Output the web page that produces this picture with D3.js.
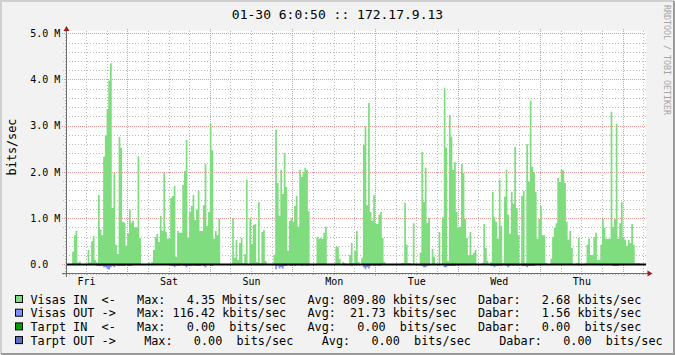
<!DOCTYPE html>
<html>
<head>
<meta charset="utf-8">
<script src="https://cdn.jsdelivr.net/npm/d3@7"></script>
<style>
  body { margin: 0; background: #f2f2f2; }
  svg text { font-family: "DejaVu Sans Mono", monospace; fill: #000; white-space: pre; }
</style>
</head>
<body>
<div id="chart"></div>
<script>
// half-hour averages, Fri 06:00 -> next Fri 06:00, in Mbits/sec
const visasIn = [
  0,0,0,0,0.27,0.63,0.72,0.04,0.06,0,0,0,
  0,0.31,0.04,0.5,0.61,0.09,0.04,1.5,0.76,0.63,2.33,2.79,
  3.36,3.98,4.35,1.22,1.98,0.42,0.22,2.76,2.52,0.92,0.9,0.4,
  0.67,1.18,0.9,0.94,0.8,0.8,2.34,0.57,0,0,0,0,
  0.05,0,0.05,0.31,0.59,0.66,0.48,1.05,0.72,1.98,0.7,0.55,
  0.55,1.44,1.48,1.7,0.16,0.72,0.68,0.68,1.72,2.02,2.69,0.58,
  1.13,1.26,1.5,0.96,1.18,1.59,0.72,0.72,1.28,2.17,0.83,1.13,
  3.04,2.47,0.55,0.72,0.63,0.98,0,0,0,0,0,0,
  0,1.0,0.14,0.53,0.09,0.46,0.57,0.03,0.22,1.83,0,1.0,
  0.44,0.85,0.87,0.05,1.35,0.03,0.7,0.74,0.07,0,0,0,
  0,0.2,2.91,1.76,1.05,2.04,1.52,2.41,1.67,0.29,0.94,1.0,
  0.92,1.26,1.48,0.81,2.04,1.89,2.0,2.09,2.04,1.15,0,0,
  0,0,0.59,0.55,0.57,0.55,0.68,0.81,0,0,0,0,
  0,0.38,0.38,0.12,0,0.05,0.03,0,0,0.2,0.46,0.03,
  0.29,0.72,0.05,0,0.14,2.58,2.99,1.28,3.49,1.13,0.94,1.5,
  0.87,0.87,1.07,1.13,0.57,0.05,0,0,0,0,0,0,
  0,0,0,0.03,0.03,1.33,0.42,0.03,0.03,0,0.89,0,
  0,0,0.25,2.43,1.35,2.09,0.89,1.0,0,0.33,0.16,0,
  0,0.7,0,1.02,3.82,2.52,0.07,3.23,2.76,2.04,2.21,1.13,
  0.79,0.81,2.17,1.98,0.98,0.57,0.2,0.7,0.2,0.25,0.31,0,
  0,0,0.03,0.87,0.35,0.07,0,0.05,1.57,1.02,0.92,0.55,
  1.83,0.83,0.03,1.46,2.04,1.07,0.66,1.57,1.31,2.54,1.22,0.63,
  0,1.48,1.59,0.03,2.6,1.78,3.54,2.11,2.0,1.57,0.55,0.98,
  1.26,0.63,0.63,0.03,0,0,0.12,0.59,0.79,0.89,1.87,1.78,
  2.04,2.03,1.76,0.92,0.53,0.72,0.35,0,0,0.03,0.57,0,
  0,0,0.03,0.42,0.56,0.2,0.2,0.59,0.68,0.1,0.1,0.42,
  0.98,0.79,0.55,0.55,0.55,3.3,0.81,0.98,3.04,0.55,0.89,1.35,
  0.59,0.53,0.4,0.53,0.46,0.87,0.42,0.03,0.03,0.03,0,0
];

// outgoing traffic, drawn below the zero line
const visasOut = [
  0,0,0,0,0,0,0.02,0,0,0,0,0,
  0,0,0,0,0,0,0.04,0.04,0.04,0.04,0.065,0.065,
  0.1,0.116,0.065,0.04,0.065,0.02,0.04,0.04,0.04,0.04,0.04,0,
  0.04,0.04,0.04,0,0,0,0.02,0,0,0,0,0,
  0,0,0,0,0,0,0,0,0,0,0,0,
  0,0.04,0.04,0.065,0.04,0.04,0.04,0,0.04,0.04,0.065,0.04,
  0.04,0.04,0.02,0.04,0.04,0.04,0.04,0,0.04,0.065,0,0,
  0.04,0.04,0,0,0,0,0,0,0,0,0,0,
  0,0.02,0,0,0,0,0,0,0,0.02,0,0,
  0,0.02,0,0,0.02,0,0.02,0,0,0,0,0,
  0,0,0.11,0.04,0.09,0.065,0.09,0.04,0.04,0,0.02,0.04,
  0.02,0.04,0.02,0.02,0.02,0.04,0.02,0.02,0.04,0.02,0,0,
  0,0,0,0,0,0,0,0,0,0,0,0,
  0,0,0,0,0,0,0,0,0,0,0.04,0,
  0,0.02,0,0,0,0.065,0.11,0.065,0.09,0.04,0.02,0.04,
  0.02,0.02,0.04,0.02,0,0,0,0,0,0,0,0,
  0,0,0,0,0,0.02,0,0,0,0,0,0,
  0,0,0.02,0.04,0.065,0.065,0.04,0.02,0,0,0,0,
  0,0.02,0,0,0.065,0.065,0.04,0.04,0.04,0.04,0.04,0.02,
  0.02,0.02,0.02,0.02,0.02,0.02,0,0,0,0,0,0,
  0,0,0,0,0,0,0,0.04,0.04,0.065,0.04,0.04,
  0.04,0.04,0,0.02,0.04,0.065,0.04,0.02,0.04,0.02,0.04,0.02,
  0,0.04,0.04,0.04,0.065,0.04,0.04,0.04,0.04,0,0,0.02,
  0.02,0.02,0,0,0,0,0,0,0,0,0,0,
  0,0,0,0,0,0,0,0,0,0,0.02,0,
  0,0,0,0,0,0,0,0,0,0,0,0.02,
  0,0,0,0,0,0,0.04,0.04,0.04,0.04,0,0.02,
  0,0,0,0,0,0,0,0,0,0,0,0
];

const dayLabels = ["Fri", "Sat", "Sun", "Mon", "Tue", "Wed", "Thu"];
const dayNoons = [6, 30, 54, 78, 102, 126, 150];   // hours from start
const yTicks = [0, 1, 2, 3, 4, 5];
const yTickLabels = ["0.0", "1.0 M", "2.0 M", "3.0 M", "4.0 M", "5.0 M"];

const legendNames = ["Visas IN  <-", "Visas OUT ->", "Tarpt IN  <-", "Tarpt OUT ->"];
const legendColors = ["#7fdc7f", "#7f8fff", "#00a000", "#5872c8"];
const legendMax = [["4.35", "M"], ["116.42", "k"], ["0.00", " "], ["0.00", " "]];
const legendAvg = [["809.80", "k"], ["21.73", "k"], ["0.00", " "], ["0.00", " "]];
const legendLast = [["2.68", "k"], ["1.56", "k"], ["0.00", " "], ["0.00", " "]];

const title = "01-30 6:0:50 :: 172.17.9.13";
const watermark = "RRDTOOL / TOBI OETIKER";

// Setting the dimensions of the graph
const width = 675, height = 355;
const plot = {left: 65.3, right: 643.3, top: 33.3, bottom: 273.5};

const svg = d3.select("#chart")
    .append("svg")
    .attr("width", width)
    .attr("height", height);

// background and 3d frame
svg.append("rect").attr("width", width).attr("height", height).attr("fill", "#f2f2f2");
svg.append("path").attr("d", "M1,354 V1 H674").attr("fill", "none")
    .attr("stroke", "#cfcfcf").attr("stroke-width", 2);
svg.append("path").attr("d", "M1,354 H674 V1").attr("fill", "none")
    .attr("stroke", "#9b9b9b").attr("stroke-width", 2);

// white canvas
svg.append("rect").attr("x", 66).attr("y", 31).attr("width", 580).attr("height", 243.5)
    .attr("fill", "#fff");

// Scales
const x = d3.scaleLinear().domain([0, 168]).range([plot.left, plot.right]);
const y = d3.scaleLinear().domain([-0.2, 5]).range([plot.bottom, plot.top]);

// grid, dotted like rrdtool
const grid = svg.append("g").attr("shape-rendering", "crispEdges").attr("stroke-width", 1);
const hours = d3.range(0, 169, 6);
const px = v => Math.round(v) + 0.5;
grid.selectAll(".vminor")
    .data(hours.filter(h => h % 24 !== 18))
    .join("line")
    .attr("x1", d => px(x(d))).attr("x2", d => px(x(d)))
    .attr("y1", 31).attr("y2", 276)
    .attr("stroke", "#b9b9b9").attr("stroke-dasharray", "1,2");
const yMinor = d3.range(-1, 26).map(k => k / 5);
grid.selectAll(".hminor")
    .data(yMinor.filter(v => Math.abs(v - Math.round(v)) > 0.01))
    .join("line")
    .attr("x1", 63).attr("x2", 646)
    .attr("y1", d => px(y(d))).attr("y2", d => px(y(d)))
    .attr("stroke", "#b9b9b9").attr("stroke-dasharray", "1,2");
grid.selectAll(".vmajor")
    .data(hours.filter(h => h % 24 === 18))
    .join("line")
    .attr("x1", d => px(x(d))).attr("x2", d => px(x(d)))
    .attr("y1", 29).attr("y2", 277)
    .attr("stroke", "#e79a9a").attr("stroke-dasharray", "1,1");
grid.selectAll(".hmajor")
    .data(yTicks)
    .join("line")
    .attr("x1", 62).attr("x2", 646)
    .attr("y1", d => px(y(d))).attr("y2", d => px(y(d)))
    .attr("stroke", "#e79a9a").attr("stroke-dasharray", "1,1");

// areas
const toPoints = arr => {
    const pts = arr.map((v, i) => ({t: i / 2, v: v}));
    pts.push({t: 168, v: 0});
    return pts;
};
const areaIn = d3.area().curve(d3.curveStepAfter)
    .x(d => x(d.t)).y0(y(0)).y1(d => y(d.v));
const areaOut = d3.area().curve(d3.curveStepAfter)
    .x(d => x(d.t)).y0(y(0)).y1(d => y(-d.v));

svg.append("path").datum(toPoints(visasIn)).attr("d", areaIn).attr("fill", legendColors[0]);
svg.append("path").datum(toPoints(visasOut)).attr("d", areaOut).attr("fill", legendColors[1]);

// zero line
svg.append("line").attr("x1", 66).attr("x2", 646)
    .attr("y1", Math.round(y(0)) + 0.5).attr("y2", Math.round(y(0)) + 0.5)
    .attr("stroke", "#000").attr("stroke-width", 2);

// axis lines and arrows
svg.append("line").attr("x1", 66.5).attr("x2", 66.5).attr("y1", 277).attr("y2", 30)
    .attr("stroke", "#6e6e6e").attr("shape-rendering", "crispEdges");
svg.append("line").attr("x1", 62).attr("x2", 648).attr("y1", 273.5).attr("y2", 273.5)
    .attr("stroke", "#6e6e6e").attr("shape-rendering", "crispEdges");
svg.append("path").attr("d", "M63.5,31 L66.5,26 L69.5,31 Z").attr("fill", "#9a1f1f");
svg.append("path").attr("d", "M647.5,270.5 L652.5,273.5 L647.5,276.5 Z").attr("fill", "#9a1f1f");

// X axis labels
const xAxis = svg.append("g")
    .attr("transform", `translate(0, ${plot.bottom})`)
    .call(d3.axisBottom(x).tickValues(dayNoons).tickFormat((d, i) => dayLabels[i])
        .tickSize(0).tickPadding(4));
xAxis.select(".domain").remove();
xAxis.selectAll("text").attr("font-size", "10px").attr("font-family", "DejaVu Sans Mono");

// Y axis labels
const yAxis = svg.append("g")
    .attr("transform", "translate(66.5, 0)")
    .call(d3.axisLeft(y).tickValues(yTicks).tickFormat((d, i) => yTickLabels[i]).tickSize(0));
yAxis.select(".domain").remove();
yAxis.selectAll("text").attr("x", -36.3).attr("text-anchor", "start")
    .attr("font-size", "10px").attr("font-family", "DejaVu Sans Mono");

// y title
svg.append("text")
    .attr("transform", "translate(15.5, 147) rotate(-90)")
    .attr("text-anchor", "middle")
    .attr("font-size", "11.8px")
    .text("bits/sec");

// title
svg.append("text")
    .attr("x", 337.5).attr("y", 18.5)
    .attr("text-anchor", "middle")
    .attr("font-size", "13px")
    .text(title);

// watermark on the right
svg.append("text")
    .attr("transform", "translate(663.5, 5) rotate(90)")
    .attr("font-size", "8.3px")
    .style("fill", "#a5a5a5")
    .text(watermark);

// legend
const gaps = [3, 3, 3, 4];
const field = (label, pair) =>
    label + pair[0].padStart(7) + " " + pair[1].trim() + (pair[1].trim() ? "" : " ") + "bits/sec";
legendNames.forEach((name, i) => {
    const base = 303.5 + i * 13.7;
    const sp = " ".repeat(gaps[i]);
    const line = name + sp + field("Max:", legendMax[i]) + sp +
        field("Avg:", legendAvg[i]) + sp + field("Dabar:", legendLast[i]);
    svg.append("rect")
        .attr("x", 15.5).attr("y", base - 8).attr("width", 7).attr("height", 7)
        .attr("fill", legendColors[i]).attr("stroke", "#000").attr("stroke-width", 1);
    svg.append("text")
        .attr("x", 30.5).attr("y", base)
        .attr("font-size", "11.8px")
        .attr("xml:space", "preserve")
        .text(line);
});
</script>
</body>
</html>
